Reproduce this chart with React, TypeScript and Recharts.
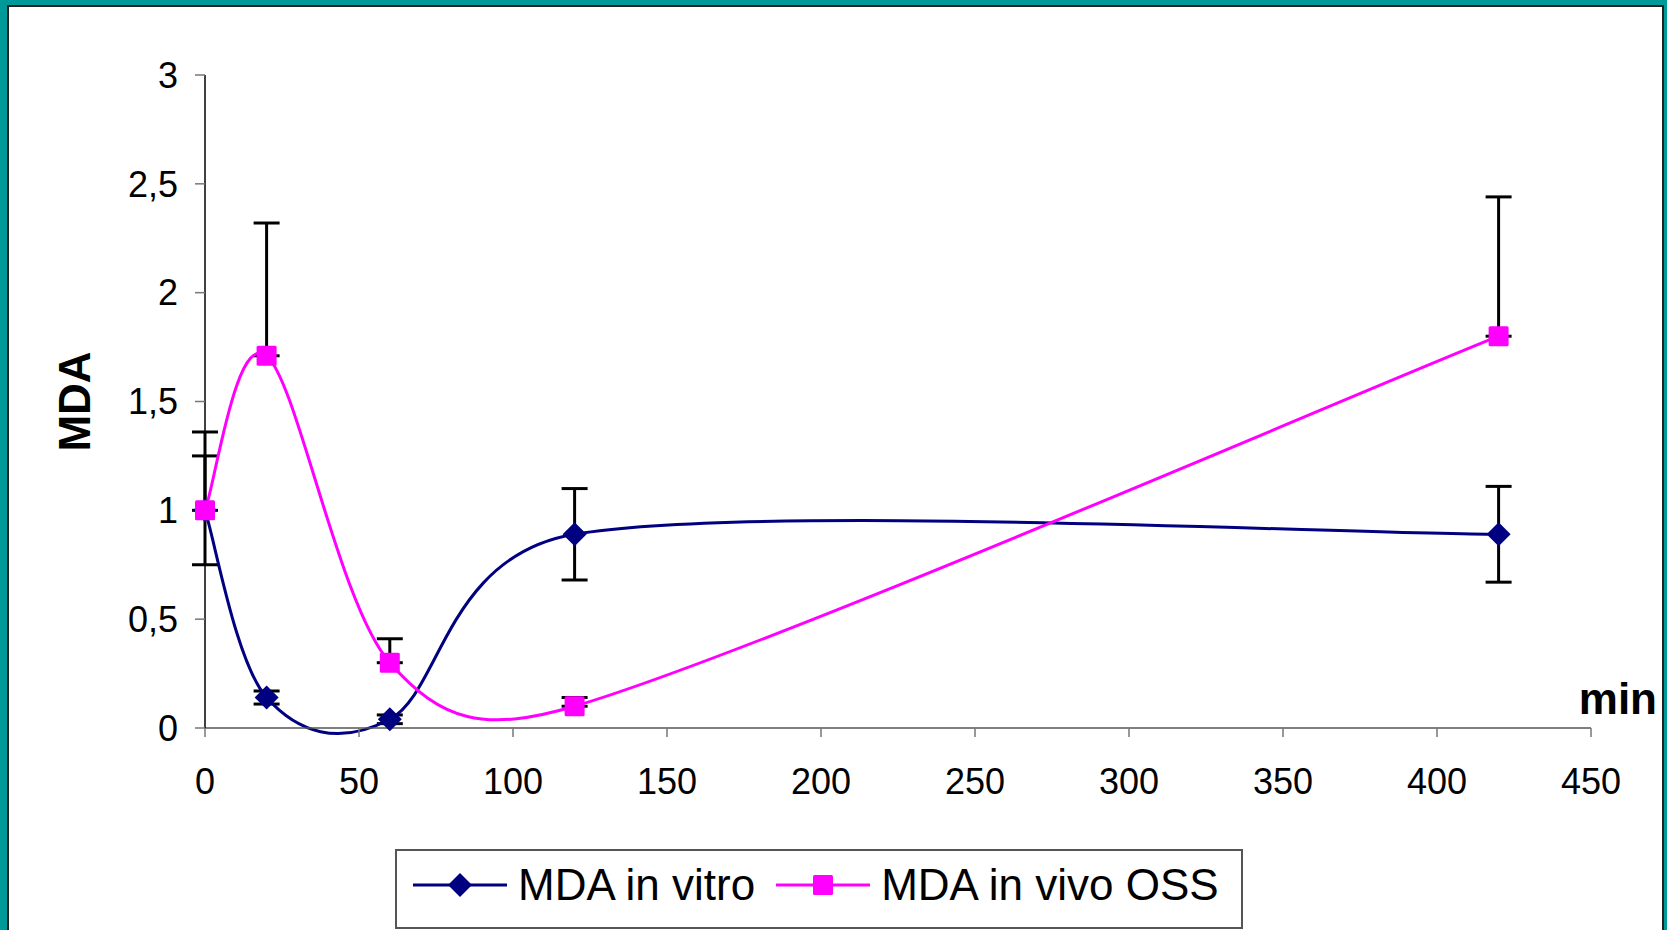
import { LineChart, Line, XAxis, YAxis, ErrorBar, Legend, Label } from "recharts";

const minutes = [0, 20, 60, 120, 420];
const mdaInVitro = [1, 0.14, 0.04, 0.89, 0.89];
const mdaInVitroErr = [0.25, 0.03, 0.02, 0.21, 0.22];
const mdaInVivo = [1, 1.71, 0.3, 0.1, 1.8];
const mdaInVivoErr = [0.36, 0.61, 0.11, 0.04, 0.64];
const xTicks = [0, 50, 100, 150, 200, 250, 300, 350, 400, 450];
const yTicks = [0, 0.5, 1, 1.5, 2, 2.5, 3];

const data = minutes.map((m, i) => ({
  min: m,
  vitro: mdaInVitro[i],
  vitroErr: mdaInVitroErr[i],
  vivo: mdaInVivo[i],
  vivoErr: [0, mdaInVivoErr[i]],
}));

const NAVY = "#000080";
const PINK = "#ff00ff";
const FONT = "'Liberation Sans', Arial, sans-serif";

// spreadsheet-style smoothing: cardinal bezier (1/6 of the neighbour chord),
// control arm capped at half the segment length
class SmoothCurve {
  ctx: any;
  pts: [number, number][] = [];
  constructor(ctx: any) {
    this.ctx = ctx;
  }
  areaStart() {}
  areaEnd() {}
  lineStart() {
    this.pts = [];
  }
  point(x: number, y: number) {
    this.pts.push([+x, +y]);
  }
  lineEnd() {
    const p = this.pts;
    if (!p.length) return;
    this.ctx.moveTo(p[0][0], p[0][1]);
    for (let i = 0; i < p.length - 1; i++) {
      const p0 = p[i - 1] || p[i];
      const p1 = p[i];
      const p2 = p[i + 1];
      const p3 = p[i + 2] || p[i + 1];
      const d12 = Math.hypot(p2[0] - p1[0], p2[1] - p1[1]);
      const arm = (a: [number, number], b: [number, number]) => {
        const vx = b[0] - a[0];
        const vy = b[1] - a[1];
        const len = Math.hypot(vx, vy);
        if (!len) return [0, 0];
        const f = len / 6 > d12 / 2 ? d12 / (2 * len) : 1 / 6;
        return [vx * f, vy * f];
      };
      const a1 = arm(p0, p2);
      const a2 = arm(p1, p3);
      this.ctx.bezierCurveTo(p1[0] + a1[0], p1[1] + a1[1], p2[0] - a2[0], p2[1] - a2[1], p2[0], p2[1]);
    }
  }
}
const smooth: any = (ctx: any) => new SmoothCurve(ctx);

const Diamond = ({ cx, cy }: any) => (
  <path d={`M${cx},${cy - 12} L${cx + 12},${cy} L${cx},${cy + 12} L${cx - 12},${cy} Z`} fill={NAVY} />
);
const Square = ({ cx, cy }: any) => (
  <rect x={cx - 10} y={cy - 10} width={20} height={20} rx={1.5} fill={PINK} />
);

function LegendBox() {
  const item = (color: string, marker: "d" | "s", text: string, gap: number) => (
    <div style={{ display: "flex", alignItems: "center", marginRight: gap }}>
      <svg width={96} height={30} style={{ marginRight: 10 }}>
        <line x1={1} y1={15} x2={95} y2={15} stroke={color} strokeWidth={3} />
        {marker === "d" ? <Diamond cx={48} cy={15} /> : <Square cx={48} cy={15} />}
      </svg>
      <span>{text}</span>
    </div>
  );
  return (
    <div
      style={{
        boxSizing: "border-box",
        width: 848,
        height: 80,
        border: "2px solid #555",
        background: "#fff",
        display: "flex",
        alignItems: "center",
        paddingLeft: 15,
        paddingBottom: 8,
        fontFamily: FONT,
        fontSize: 44,
        color: "#000",
      }}
    >
      {item(NAVY, "d", "MDA in vitro", 20)}
      {item(PINK, "s", "MDA in vivo OSS", 0)}
    </div>
  );
}

export default function App() {
  return (
    <div
      style={{
        position: "absolute",
        left: 0,
        top: 0,
        width: 1667,
        height: 930,
        background: "#009999",
        overflow: "hidden",
        fontFamily: FONT,
      }}
    >
      <div
        style={{
          position: "absolute",
          left: 7,
          top: 5,
          width: 1657,
          height: 940,
          boxSizing: "border-box",
          border: "2px solid #222",
          background: "#fff",
        }}
      />
      <div style={{ position: "absolute", left: 0, top: 0 }}>
        <LineChart width={1667} height={930} data={data} margin={{ top: 75, right: 76, bottom: 122, left: 55 }}>
          <XAxis
            dataKey="min"
            type="number"
            domain={[0, 450]}
            ticks={xTicks}
            interval={0}
            height={80}
            tickSize={9}
            tickMargin={31}
            tick={{ fontSize: 36, fill: "#000" }}
            axisLine={{ stroke: "#555", strokeWidth: 1.5 }}
            tickLine={{ stroke: "#777", strokeWidth: 1.5 }}
          >
            <Label
              content={({ viewBox }: any) => (
                <text
                  x={viewBox.x + viewBox.width + 66}
                  y={viewBox.y - 14}
                  textAnchor="end"
                  fontSize={44}
                  fontWeight="bold"
                  fill="#000"
                >
                  min
                </text>
              )}
            />
          </XAxis>
          <YAxis
            type="number"
            domain={[0, 3]}
            ticks={yTicks}
            interval={0}
            width={150}
            tickSize={10}
            tickMargin={17}
            tickFormatter={(v: number) => String(v).replace(".", ",")}
            tick={{ fontSize: 36, fill: "#000" }}
            axisLine={{ stroke: "#000", strokeWidth: 1.5 }}
            tickLine={{ stroke: "#777", strokeWidth: 1.5 }}
          >
            <Label
              content={({ viewBox }: any) => {
                const x = viewBox.x + 19;
                const y = viewBox.y + viewBox.height / 2;
                return (
                  <text
                    x={x}
                    y={y}
                    transform={`rotate(-90 ${x} ${y})`}
                    textAnchor="middle"
                    dominantBaseline="central"
                    fontSize={44}
                    fontWeight="bold"
                    fill="#000"
                  >
                    MDA
                  </text>
                );
              }}
            />
          </YAxis>
          <Legend
            layout="horizontal"
            verticalAlign="middle"
            align="center"
            wrapperStyle={{ left: 395, top: 849, width: 848 }}
            content={() => <LegendBox />}
          />
          <Line
            dataKey="vitro"
            name="MDA in vitro"
            type={smooth}
            stroke={NAVY}
            strokeWidth={3}
            dot={<Diamond />}
            activeDot={false}
            isAnimationActive={false}
          >
            <ErrorBar dataKey="vitroErr" direction="y" width={13} stroke="#000" strokeWidth={3} />
          </Line>
          <Line
            dataKey="vivo"
            name="MDA in vivo OSS"
            type={smooth}
            stroke={PINK}
            strokeWidth={3}
            dot={<Square />}
            activeDot={false}
            isAnimationActive={false}
          >
            <ErrorBar dataKey="vivoErr" direction="y" width={13} stroke="#000" strokeWidth={3} />
          </Line>
        </LineChart>
      </div>
    </div>
  );
}
